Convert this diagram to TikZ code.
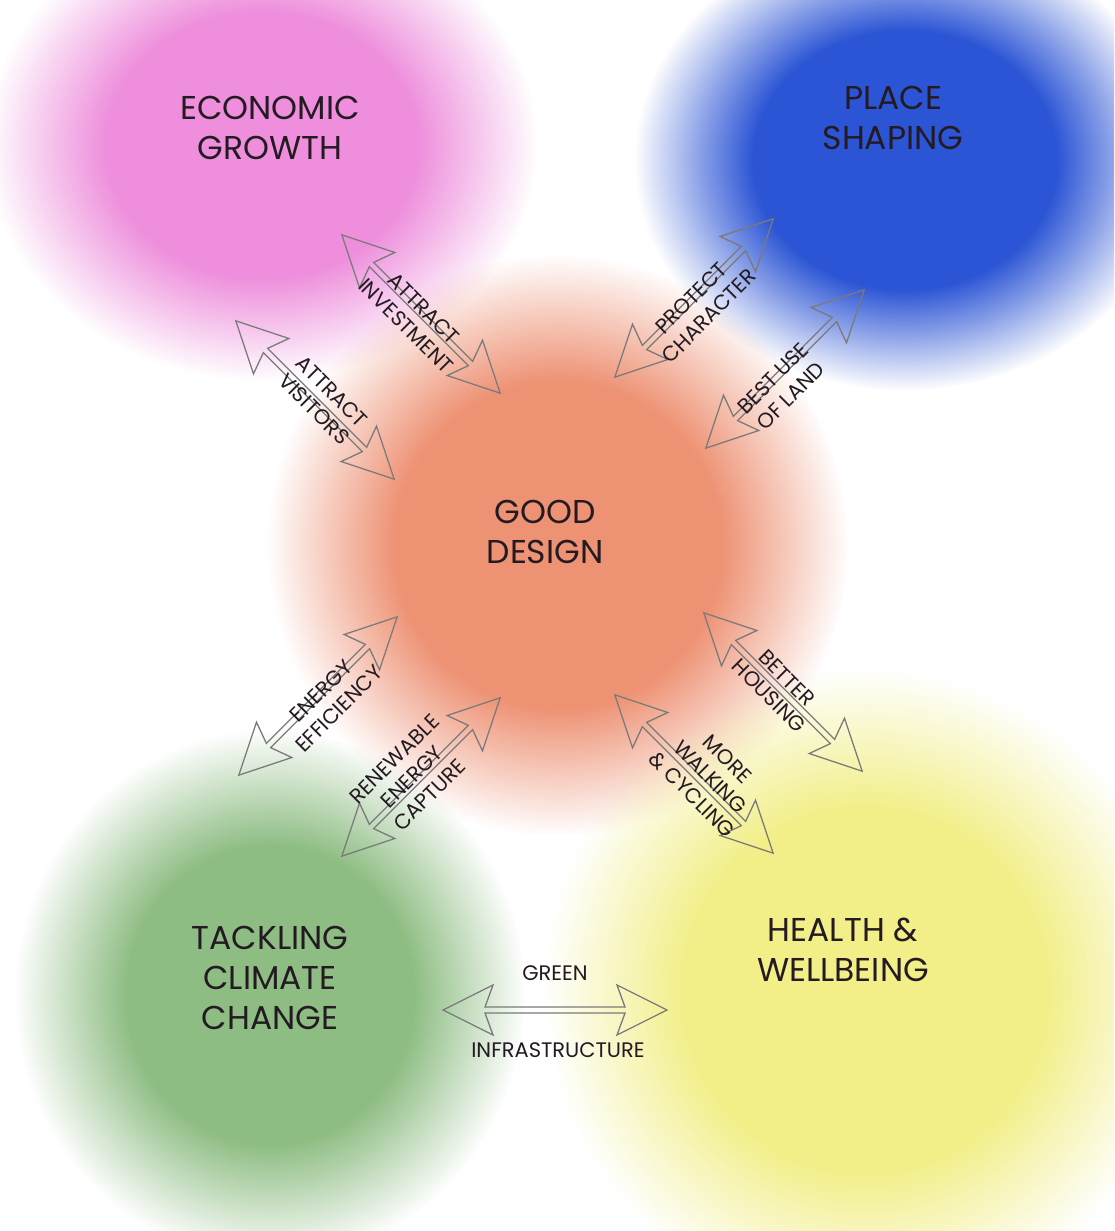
\documentclass[tikz,border=0pt]{standalone}
\usepackage{fontspec}
\setmainfont{Poppins}
\usetikzlibrary{fadings}
\pgfdeclareradialshading{blobmask}{\pgfpointorigin}{color(0bp)=(white); color(14bp)=(white); color(19.5bp)=(white!50!black); color(25bp)=(black); color(50bp)=(black)}
\pgfdeclarefading{blobfade}{\pgfuseshading{blobmask}}
\definecolor{cpink}{HTML}{EE8EDC}
\definecolor{cblue}{HTML}{2C55D5}
\definecolor{corange}{HTML}{EE9274}
\definecolor{cgreen}{HTML}{8EBD83}
\definecolor{cyellow}{HTML}{F2EF88}
\definecolor{ink}{HTML}{231A22}
\definecolor{arrowgray}{HTML}{7A7A7A}
\tikzset{
  blob/.style={path fading=blobfade, fit fading=true},
  arrowline/.style={draw=arrowgray, line width=1.3pt, line join=miter},
  dblarrow/.pic={\path[arrowline] (112,0) -- (62,25) -- (70,3) -- (-70,3) -- (-62,25) -- (-112,0) -- (-62,-25) -- (-70,-3) -- (70,-3) -- (62,-25) -- cycle;},
  biglabel/.style={text=ink, align=center, font=\fontsize{33}{40}\selectfont},
  smalllabel/.style={text=ink, align=center, font=\fontsize{21}{25}\selectfont, inner sep=0pt}
}
\begin{document}
\begin{tikzpicture}[x=1pt,y=-1pt]
\useasboundingbox (0,0) rectangle (1114,1231);
\fill[white] (0,0) rectangle (1114,1231);
\begin{scope}
\clip (0,0) rectangle (1114,1231);
\fill[cpink, blob] (262,145) ellipse (275 and 235);
\fill[cblue, blob] (905,160) ellipse (270 and 230);
\fill[corange, blob] (558,545) ellipse (290 and 290);
\fill[cgreen, blob] (270,995) ellipse (255 and 265);
\fill[cyellow, blob] (865,990) ellipse (320 and 320);
\end{scope}

% arrows
\pic[rotate=-45] (a1) at (421,314) {dblarrow};
\pic[rotate=-45] (a2) at (315,400) {dblarrow};
\pic[rotate=45] (a3) at (694,298) {dblarrow};
\pic[rotate=45] (a4) at (785,369) {dblarrow};
\pic[rotate=45] (a5) at (318,696) {dblarrow};
\pic[rotate=45] (a6) at (421,777) {dblarrow};
\pic[rotate=-45] (a7) at (783,692) {dblarrow};
\pic[rotate=-45] (a8) at (694,774) {dblarrow};
\pic (a9) at (555,1010) {dblarrow};

% main labels
\node[biglabel] (econ) at (270,128) {ECONOMIC\\GROWTH};
\node[biglabel] (place) at (893,118) {PLACE\\SHAPING};
\node[biglabel] (good) at (545,532) {GOOD\\DESIGN};
\node[biglabel] (climate) at (270,978) {TACKLING\\CLIMATE\\CHANGE};
\node[biglabel] (health) at (843,950) {HEALTH \&\\WELLBEING};

% arrow labels
\node[smalllabel, rotate=-45] (l1) at (415,317) {ATTRACT\\INVESTMENT};
\node[smalllabel, rotate=-45] (l2) at (323,400) {ATTRACT\\VISITORS};
\node[smalllabel, rotate=45] (l3) at (700,307) {PROTECT\\CHARACTER};
\node[smalllabel, rotate=45] (l4) at (782,387) {BEST USE\\OF LAND};
\node[smalllabel, rotate=45] (l5) at (330,700) {ENERGY\\EFFICIENCY};
\node[smalllabel, rotate=45] (l6) at (412,777) {RENEWABLE\\ENERGY\\CAPTURE};
\node[smalllabel, rotate=-45] (l7) at (778,687) {BETTER\\HOUSING};
\node[smalllabel, rotate=-45] (l8) at (710,777) {MORE\\WALKING\\\& CYCLING};
\node[smalllabel] (l9a) at (555,973) {GREEN};
\node[smalllabel] (l9b) at (558,1050) {INFRASTRUCTURE};
\end{tikzpicture}
\end{document}
